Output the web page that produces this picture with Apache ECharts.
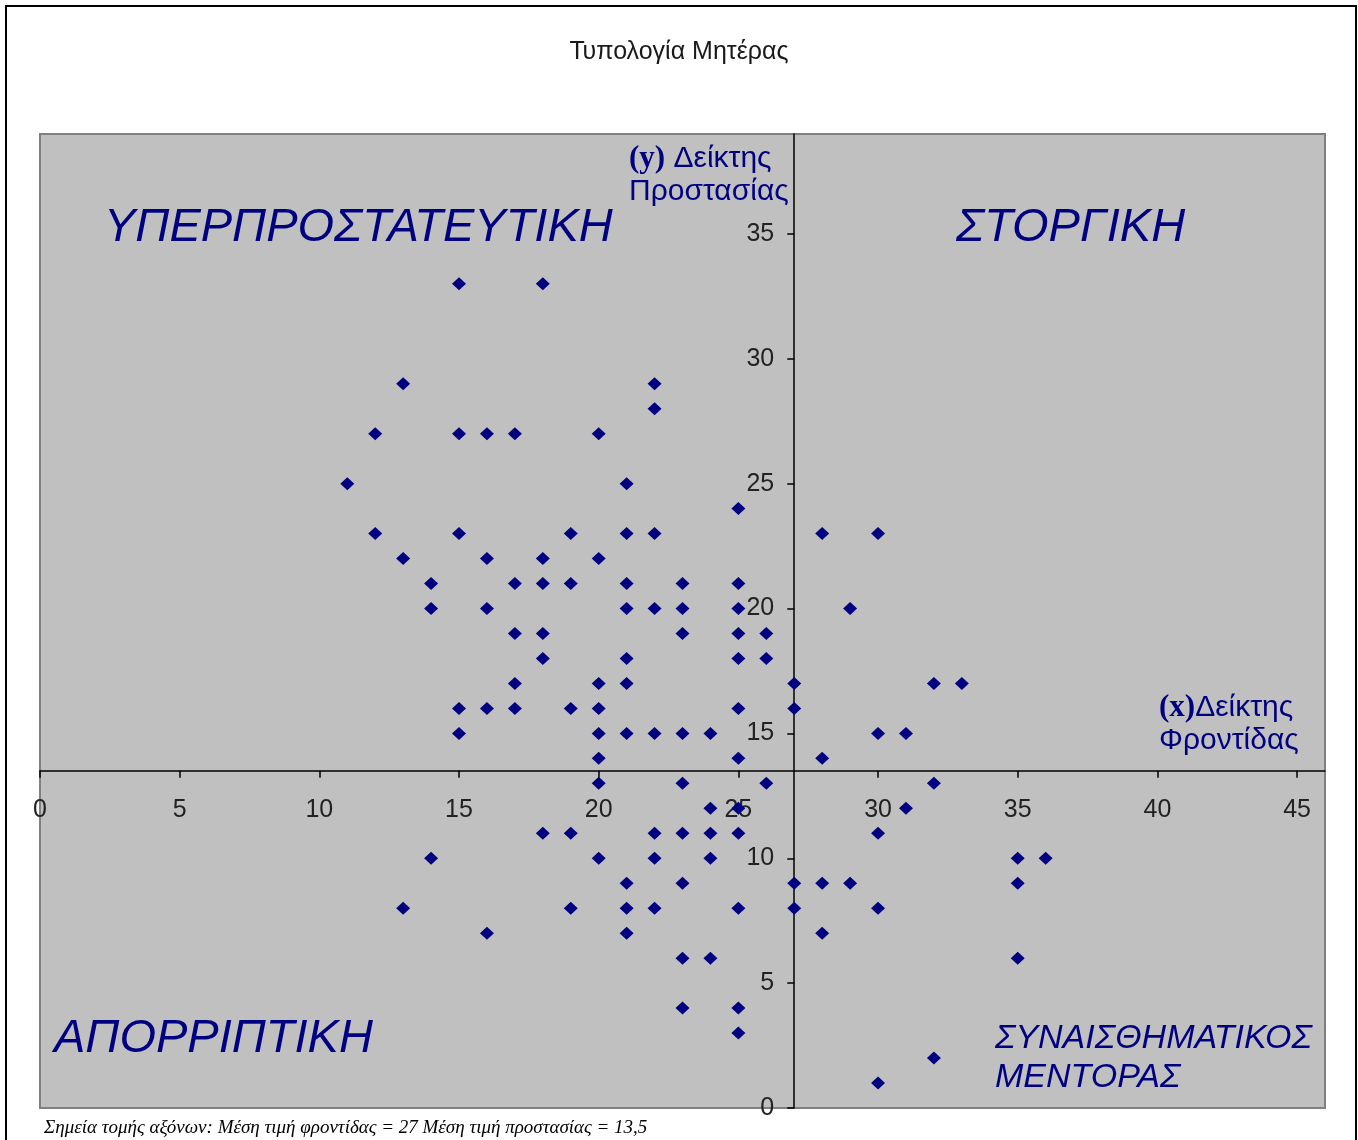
<!DOCTYPE html>
<html>
<head>
<meta charset="utf-8">
<script src="https://cdn.jsdelivr.net/npm/echarts@6/dist/echarts.min.js"></script>
<style>
html,body{margin:0;padding:0;background:#fff;}
#chart{width:1358px;height:1140px;}
</style>
</head>
<body>
<div id="chart"></div>
<script>
// Δείκτης Φροντίδας (x)
const care = [
  15, 18,
  13, 22,
  22,
  12, 15, 16, 17, 20,
  11, 21,
  25,
  12, 15, 19, 21, 22, 28, 30,
  13, 16, 18, 20,
  14, 17, 18, 19, 21, 23, 25,
  14, 16, 21, 22, 23, 25, 29,
  17, 18, 23, 25, 26,
  18, 21, 25, 26,
  17, 20, 21, 27, 32, 33,
  15, 16, 17, 19, 20, 25, 27,
  15, 20, 21, 22, 23, 24, 30, 31,
  20, 25, 28,
  20, 23, 26, 32,
  24, 25, 31,
  18, 19, 22, 23, 24, 25, 30,
  14, 20, 22, 24, 35, 36,
  21, 23, 27, 28, 29, 35,
  13, 19, 21, 22, 25, 27, 30,
  16, 21, 28,
  23, 24, 35,
  23, 25,
  25,
  32,
  30
];
// Δείκτης Προστασίας (y)
const protection = [
  33, 33,
  29, 29,
  28,
  27, 27, 27, 27, 27,
  25, 25,
  24,
  23, 23, 23, 23, 23, 23, 23,
  22, 22, 22, 22,
  21, 21, 21, 21, 21, 21, 21,
  20, 20, 20, 20, 20, 20, 20,
  19, 19, 19, 19, 19,
  18, 18, 18, 18,
  17, 17, 17, 17, 17, 17,
  16, 16, 16, 16, 16, 16, 16,
  15, 15, 15, 15, 15, 15, 15, 15,
  14, 14, 14,
  13, 13, 13, 13,
  12, 12, 12,
  11, 11, 11, 11, 11, 11, 11,
  10, 10, 10, 10, 10, 10,
  9, 9, 9, 9, 9, 9,
  8, 8, 8, 8, 8, 8, 8,
  7, 7, 7,
  6, 6, 6,
  4, 4,
  3,
  2,
  1
];
const xTicks = [0, 5, 10, 15, 20, 25, 30, 35, 40, 45];
const yTicks = [0, 5, 10, 15, 20, 25, 30, 35];
const meanCare = 27;
const meanProtection = 13.5;
const xRange = [0, 46];
const yRange = [0, 39];

const titleText = 'Τυπολογία Μητέρας';
const quadrantLabels = ['ΥΠΕΡΠΡΟΣΤΑΤΕΥΤΙΚΗ', 'ΣΤΟΡΓΙΚΗ', 'ΑΠΟΡΡΙΠΤΙΚΗ', 'ΣΥΝΑΙΣΘΗΜΑΤΙΚΟΣ\nΜΕΝΤΟΡΑΣ'];
const yAxisName = '{s|(y)} Δείκτης\nΠροστασίας';
const xAxisName = '{s|(x)}Δείκτης\nΦροντίδας';
const footnote = 'Σημεία τομής αξόνων: Μέση τιμή φροντίδας = 27 Μέση τιμή προστασίας = 13,5';

const points = care.map((x, i) => [x, protection[i]]);

const navy = '#000080';
const chart = echarts.init(document.getElementById('chart'), null, {renderer: 'canvas'});

const quadStyle = (size) => ({
  fontSize: size,
  fontStyle: 'italic',
  fontFamily: 'Liberation Sans, Arial, sans-serif',
  fill: navy,
  align: 'left',
  verticalAlign: 'middle'
});
const nameStyle = (text) => ({
  text: text,
  fontSize: 30,
  lineHeight: 33,
  fontFamily: 'Liberation Sans, Arial, sans-serif',
  fill: navy,
  align: 'left',
  verticalAlign: 'middle',
  rich: {s: {fontFamily: 'Liberation Serif, Times New Roman, serif', fontWeight: 'bold', fontSize: 31, fill: navy}}
});

const axisFont = {
  fontSize: 25,
  fontFamily: 'Liberation Sans, Arial, sans-serif',
  color: '#222'
};

const option = {
  backgroundColor: '#ffffff',
  animation: false,
  title: {
    text: titleText,
    left: 'center',
    top: 35,
    textStyle: {
      fontFamily: 'Liberation Sans, Arial, sans-serif',
      fontSize: 25,
      fontWeight: 'normal',
      color: '#1a1a1a'
    }
  },
  grid: {
    left: 40, top: 134, right: 33, bottom: 32,
    outerBoundsMode: 'none',
    containLabel: false,
    show: true,
    backgroundColor: '#c0c0c0',
    borderColor: '#808080',
    borderWidth: 2
  },
  xAxis: [
    {
      type: 'value',
      min: xRange[0], max: xRange[1],
      interval: 5,
      offset: 0,
      axisLine: {show: true, onZero: false, lineStyle: {color: '#000', width: 1.5}},
      axisTick: {show: true, length: 7, customValues: xTicks, lineStyle: {color: '#000', width: 1.5}},
      axisLabel: Object.assign({customValues: xTicks, margin: 27, hideOverlap: false}, axisFont),
      splitLine: {show: false}
    }
  ],
  yAxis: [
    {
      type: 'value',
      min: yRange[0], max: yRange[1],
      interval: 5,
      offset: 0,
      axisLine: {show: true, onZero: false, lineStyle: {color: '#000', width: 1.5}},
      axisTick: {show: true, length: 7, customValues: yTicks, lineStyle: {color: '#000', width: 1.5}},
      axisLabel: Object.assign({customValues: yTicks, margin: 20, hideOverlap: false}, axisFont),
      splitLine: {show: false}
    }
  ],
  series: [
    {
      type: 'scatter',
      data: points,
      symbol: 'diamond',
      symbolSize: [14, 13],
      itemStyle: {color: navy, opacity: 1},
      emphasis: {disabled: true},
      z: 5
    }
  ],
  graphic: [
    {
      type: 'rect',
      shape: {x: 6, y: 6, width: 1350, height: 1170},
      style: {fill: 'none', stroke: '#000', lineWidth: 2},
      z: 100
    },
    {type: 'text', x: 104, y: 228, style: Object.assign({text: quadrantLabels[0]}, quadStyle(47)), z: 50},
    {type: 'text', x: 956, y: 228, style: Object.assign({text: quadrantLabels[1]}, quadStyle(47)), z: 50},
    {type: 'text', x: 54, y: 1039, style: Object.assign({text: quadrantLabels[2]}, quadStyle(47)), z: 50},
    {type: 'text', x: 995, y: 1058, style: Object.assign({text: quadrantLabels[3], lineHeight: 39}, quadStyle(34)), z: 50},
    {type: 'text', x: 629, y: 175, z: 50, style: nameStyle(yAxisName)},
    {type: 'text', x: 1159, y: 724, z: 50, style: nameStyle(xAxisName)},
    {
      type: 'text', x: 44, y: 1128, z: 50,
      style: {
        text: footnote,
        fontSize: 19,
        fontStyle: 'italic',
        fontFamily: 'Liberation Serif, Times New Roman, serif',
        fill: '#000',
        align: 'left',
        verticalAlign: 'middle'
      }
    }
  ]
};
chart.setOption(option);

// Move the axes so they cross at the mean values, using the library's own scales.
const yCross = chart.convertToPixel({yAxisIndex: 0}, meanProtection);
const yBottom = chart.convertToPixel({yAxisIndex: 0}, yRange[0]);
const xCross = chart.convertToPixel({xAxisIndex: 0}, meanCare);
const xLeft = chart.convertToPixel({xAxisIndex: 0}, xRange[0]);
chart.setOption({
  xAxis: [{offset: yCross - yBottom}],
  yAxis: [{offset: xLeft - xCross}]
});
</script>
</body>
</html>
